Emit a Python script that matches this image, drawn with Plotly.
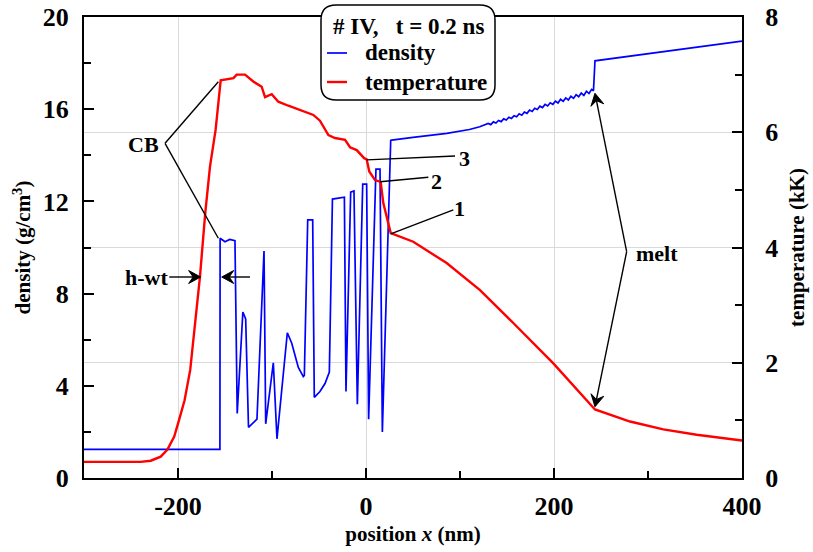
import math
import plotly.graph_objects as go

# ---------------- data ----------------
dens_x = [-300, -155.4, -155.2, -150, -145, -139.4, -137, -131, -128, -125, -116,
          -108.5, -106.7, -98.6, -94.7, -83.7, -79, -76, -72, -66.7, -65.6, -62,
          -56.7, -55, -49, -43.6, -39, -35.7, -23, -21.3, -16.3, -12.8, -9.2,
          -3.5, 0.7, 2.8, 10.6, 14.9, 17.4, 26.3, 27.3, 50, 86, 110, 121,
          130, 132.75, 135.5, 138.25, 141, 143.75, 146.5, 149.25, 152, 154.75,
          157.5, 160.25, 163, 165.75, 168.5, 171.25, 174, 176.75, 179.5, 182.25,
          185, 187.75, 190.5, 193.25, 196, 198.75, 201.5, 204.25, 207, 209.75,
          212.5, 215.25, 218, 220.75, 223.5, 226.25, 229, 231.75, 234.5, 237.25,
          240, 242, 243.6, 320, 400]
dens_y = [1.245, 1.245, 10.4, 10.25, 10.35, 10.3, 2.8, 7.2, 6.9, 2.2, 2.55,
          9.85, 2.35, 5.0, 1.7, 6.3, 5.85, 5.4, 4.8, 4.4, 4.45, 11.2,
          11.2, 3.5, 3.75, 4.1, 4.6, 12.1, 12.18, 3.75, 12.4, 12.45, 3.2,
          12.75, 12.75, 2.55, 13.4, 13.4, 2.0, 14.65, 14.66, 14.78, 14.95, 15.12, 15.24,
          15.38, 15.33, 15.45, 15.40, 15.51, 15.46, 15.58, 15.53, 15.65, 15.60,
          15.72, 15.67, 15.80, 15.74, 15.88, 15.82, 15.96, 15.90, 16.04, 15.99,
          16.13, 16.07, 16.21, 16.14, 16.28, 16.21, 16.35, 16.27, 16.43, 16.34,
          16.49, 16.40, 16.56, 16.47, 16.63, 16.54, 16.70, 16.60, 16.78, 16.68,
          16.86, 16.80, 18.1, 18.52, 18.95]

temp_x = [-300, -240, -229, -218.4, -211.4, -204, -199, -193, -187, -182,
          -176.6, -171, -166, -160, -154.6, -141, -137.6, -128.7, -119.9, -111,
          -107.4, -100.3, -93.3, -82.6, -70, -56, -49, -40, -33, -22.3, -17,
          -9.9, -2, 0.7, 3.5, 9.6, 15.6, 18.4, 26.3, 50.3, 85.8, 121.3, 156.7,
          199.3, 243.6, 280.9, 316.3, 351.8, 400]
temp_y = [0.28, 0.28, 0.30, 0.37, 0.49, 0.72, 1.0, 1.35, 1.875, 2.6,
          3.5, 4.6, 5.4, 6.04, 6.9, 6.94, 7.0, 7.0, 6.88, 6.79,
          6.61, 6.66, 6.53, 6.46, 6.39, 6.30, 6.2, 5.95, 5.90, 5.87, 5.74,
          5.69, 5.55, 5.53, 5.32, 5.17, 5.14, 4.77, 4.25, 4.10, 3.73, 3.26, 2.69,
          1.99, 1.19, 0.98, 0.845, 0.75, 0.65]

x_ticks = [-200, 0, 200, 400]
x_ticktext = ["-200", "0", "200", "400"]
dens_ticks = [0, 4, 8, 12, 16, 20]
temp_ticks = [0, 2, 4, 6, 8]

series_names = ["density", "temperature"]
series_colors = ["#0000ff", "#ff0000"]
legend_title = "# IV,\u00a0\u00a0 t = 0.2 ns"

X_RANGE = [-300, 400]
D_RANGE = [0, 20]
T_RANGE = [0, 8]

W, H = 813, 552
ML, MR, MT, MB = 84, 71, 17, 74

FONT = "Liberation Serif"
BOLD = dict(family=FONT, color="black", weight="bold")
GRID = "#dadada"

fig = go.Figure()
fig.add_trace(go.Scatter(x=dens_x, y=dens_y, mode="lines", name=series_names[0],
                         line=dict(color=series_colors[0], width=1.7)))
fig.add_trace(go.Scatter(x=temp_x, y=temp_y, mode="lines", name=series_names[1],
                         line=dict(color=series_colors[1], width=2.4), yaxis="y2"))

axis_common = dict(ticks="inside", tickwidth=2, tickcolor="black", ticklen=10,
                   showline=True, linewidth=2, linecolor="black", zeroline=False)

fig.update_layout(
    width=W, height=H,
    margin=dict(l=ML, r=MR, t=MT, b=MB, autoexpand=False),
    paper_bgcolor="white", plot_bgcolor="white",
    font=dict(BOLD, size=22),
    showlegend=False,
    xaxis=dict(axis_common, range=X_RANGE, tickvals=x_ticks, ticktext=x_ticktext, mirror=True,
               showgrid=True, gridcolor=GRID, gridwidth=1,
               minor=dict(dtick=100, tick0=0, ticks="inside", ticklen=7, tickwidth=2,
                          tickcolor="black", showgrid=False),
               tickfont=dict(BOLD, size=26), ticklabelstandoff=4,
               title=dict(text="position <i>x</i> (nm)", font=dict(BOLD, size=21), standoff=6)),
    yaxis=dict(axis_common, range=D_RANGE, tickvals=dens_ticks, showgrid=False,
               minor=dict(dtick=2, tick0=0, ticks="inside", ticklen=7, tickwidth=2,
                          tickcolor="black", showgrid=False),
               tickfont=dict(BOLD, size=26), ticklabelstandoff=8,
               title=dict(text="density (g/cm<sup>3</sup>)", font=dict(BOLD, size=21), standoff=6)),
    yaxis2=dict(axis_common, range=T_RANGE, tickvals=temp_ticks, overlaying="y", side="right",
                showgrid=True, gridcolor=GRID, gridwidth=1,
                minor=dict(dtick=1, tick0=0, ticks="inside", ticklen=7, tickwidth=2,
                           tickcolor="black", showgrid=False),
                tickfont=dict(BOLD, size=26), ticklabelstandoff=16,
                title=dict(text="temperature (kK)", font=dict(BOLD, size=21), standoff=12)),
)

# pixel scales of the plot area (for decoration geometry)
PW, PH = W - ML - MR, H - MT - MB
SX = PW / (X_RANGE[1] - X_RANGE[0])   # px per nm
SY = PH / (D_RANGE[1] - D_RANGE[0])   # px per density unit


def pxx(px):   # page pixel -> paper x
    return (px - ML) / PW


def pxy(py):   # page pixel -> paper y
    return (H - MB - py) / PH


# ---------------- rounded legend frame + legend content ----------------
x0, x1 = pxx(321), pxx(495)
y1, y0 = pxy(5), pxy(100)
rx, ry = 15 / PW, 15 / PH
path = (f"M {x0+rx},{y1} L {x1-rx},{y1} Q {x1},{y1} {x1},{y1-ry} "
        f"L {x1},{y0+ry} Q {x1},{y0} {x1-rx},{y0} L {x0+rx},{y0} "
        f"Q {x0},{y0} {x0},{y0+ry} L {x0},{y1-ry} Q {x0},{y1} {x0+rx},{y1} Z")
fig.add_shape(type="path", path=path, xref="paper", yref="paper", layer="above",
              fillcolor="white", line=dict(color="black", width=1.5))

fig.add_annotation(x=pxx(331), y=pxy(27), xref="paper", yref="paper", text=legend_title,
                   showarrow=False, xanchor="left", yanchor="middle", font=dict(BOLD, size=23))
for i, (nm, col, lw) in enumerate(zip(series_names, series_colors, [1.7, 2.4])):
    yy = pxy([53, 82][i])
    fig.add_shape(type="line", x0=pxx(327), x1=pxx(347), y0=yy, y1=yy, xref="paper",
                  yref="paper", layer="above", line=dict(color=col, width=lw))
    fig.add_annotation(x=pxx(363), y=yy, xref="paper", yref="paper", text=nm,
                       showarrow=False, xanchor="left", yanchor="middle", font=dict(BOLD, size=23))

# ---------------- annotation lines ----------------
LINE = dict(color="black", width=1.4)
for (ax0, ay0, ax1, ay1) in [(-213.8, 14.52, -157.1, 17.19),
                             (-213.8, 14.52, -157.1, 10.40),
                             (0.7, 13.80, 94.7, 13.97),
                             (14.9, 12.85, 66.3, 13.05),
                             (26.3, 10.59, 92.9, 11.63)]:
    fig.add_shape(type="line", x0=ax0, y0=ay0, x1=ax1, y1=ay1, xref="x", yref="y",
                  layer="above", line=LINE)


# ---------------- arrows (line + barbed head) ----------------
def arrow(tx, ty, hx, hy, L=12, Wd=6.5, notch=4.5):
    # work in pixel space, then convert back to data units
    TX, TY = tx * SX, -ty * SY
    HX, HY = hx * SX, -hy * SY
    dx, dy = HX - TX, HY - TY
    n = math.hypot(dx, dy)
    ux, uy = dx / n, dy / n
    px, py = -uy, ux
    bx, by = HX - L * ux, HY - L * uy
    nx, ny = HX - (L - notch) * ux, HY - (L - notch) * uy
    pts = [(HX, HY), (bx + Wd * px, by + Wd * py), (nx, ny), (bx - Wd * px, by - Wd * py)]
    d = "M " + " L ".join(f"{X / SX},{-Y / SY}" for X, Y in pts) + " Z"
    fig.add_shape(type="line", x0=tx, y0=ty, x1=nx / SX, y1=-ny / SY, xref="x", yref="y",
                  layer="above", line=LINE)
    fig.add_shape(type="path", path=d, xref="x", yref="y", layer="above",
                  fillcolor="black", line=dict(color="black", width=1))


for (tx, ty, hx, hy) in [(-209.3, 8.72, -175.9, 8.72),
                         (-123.4, 8.72, -153.5, 8.72),
                         (277.3, 9.82, 243.6, 16.69),
                         (277.3, 9.82, 243.6, 3.09)]:
    arrow(tx, ty, hx, hy)

# ---------------- labels ----------------
for (txt, lx, ly) in [("CB", -237.2, 14.45), ("h-wt", -234, 8.72), ("1", 99.3, 11.7),
                      ("2", 74.5, 12.86), ("3", 105.3, 13.88), ("melt", 309.6, 9.76)]:
    fig.add_annotation(x=lx, y=ly, xref="x", yref="y", text=txt, showarrow=False,
                       font=dict(BOLD, size=22), xanchor="center", yanchor="middle")

fig.write_html("out.html", config={"displayModeBar": False},
               post_script="document.body.style.margin='0';")
